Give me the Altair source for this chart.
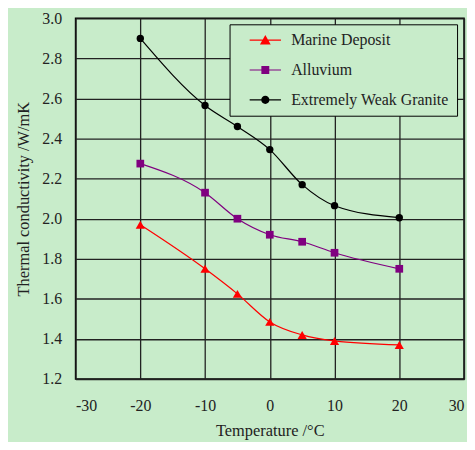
import math
import altair as alt
import pandas as pd

temps = [-20, -10, -5, 0, 5, 10, 20]
series_names = ["Marine Deposit", "Alluvium", "Extremely Weak Granite"]
marine = [1.97, 1.75, 1.625, 1.485, 1.42, 1.39, 1.37]
alluvium = [2.275, 2.13, 2.0, 1.92, 1.885, 1.83, 1.75]
granite = [2.90, 2.565, 2.46, 2.345, 2.17, 2.065, 2.005]
colors = ["#ff0000", "#800080", "#000000"]
shapes = ["triangle-up", "square", "circle"]
point_sizes = [85, 60, 55]
x_ticks = [-30, -20, -10, 0, 10, 20, 30]
y_ticks = [1.2, 1.4, 1.6, 1.8, 2.0, 2.2, 2.4, 2.6, 2.8, 3.0]

BG = "#c8ecca"
FONT = "Liberation Serif"

rows = []
for name, vals in zip(series_names, [marine, alluvium, granite]):
    for t, v in zip(temps, vals):
        rows.append({"series": name, "temp": t, "k": v})
df = pd.DataFrame(rows)

x = alt.X("temp:Q", scale=alt.Scale(domain=[-30, 30], nice=False),
          axis=alt.Axis(values=x_ticks, title="Temperature /°C", labelPadding=19,
                        titlePadding=9, titleFontSize=16.5,
                        labelExpr="datum.value < 0 ? '-' + abs(datum.value) : '' + datum.value"))
y = alt.Y("k:Q", scale=alt.Scale(domain=[1.2, 3.0], nice=False, zero=False),
          axis=alt.Axis(values=y_ticks, format=".1f", title="Thermal conductivity /W/mK",
                        labelPadding=14, titlePadding=10, titleFontSize=16.5))

base = alt.Chart(df)

layers = []
for name, col, shp, sz in zip(series_names, colors, shapes, point_sizes):
    sub = base.transform_filter(alt.datum.series == name)
    layers.append(sub.mark_line(interpolate="monotone", strokeWidth=1.2, color=col)
                  .encode(x=x, y=y))
    layers.append(sub.mark_point(filled=True, opacity=1, shape=shp, size=sz, color=col)
                  .encode(x=x, y=y))

# legend symbols: short line with the marker on it (filled unit-square SVG paths)
line_seg = "M-2.1,-0.08H2.1V0.08H-2.1Z"
circ = "M" + "L".join(
    f"{0.55 * math.cos(2 * math.pi * k / 16):.3f},{0.55 * math.sin(2 * math.pi * k / 16):.3f}"
    for k in range(16)
) + "Z"
leg_paths = [
    line_seg + "M-0.72,0.58L0,-0.7L0.72,0.58Z",
    line_seg + "M-0.53,-0.53H0.53V0.53H-0.53Z",
    line_seg + circ,
]

leg = alt.Legend(
    title=None, orient="none", legendX=155, legendY=6,
    strokeColor="#000000", fillColor=BG, padding=8,
    symbolSize=225, symbolStrokeWidth=0, symbolOffset=20, symbolOpacity=1,
    rowPadding=14, labelOffset=18,
    labelFont=FONT, labelFontSize=16, labelColor="#222222", labelLimit=300,
)

legend_layer = base.mark_point(filled=True, opacity=0).encode(
    x=x, y=y,
    color=alt.Color("series:N", scale=alt.Scale(domain=series_names, range=colors), legend=leg),
    shape=alt.Shape("series:N", scale=alt.Scale(domain=series_names, range=leg_paths), legend=leg),
)
layers.append(legend_layer)

chart = alt.layer(*layers).properties(
    width=391, height=363,
    autosize=alt.AutoSizeParams(type="none"),
    padding={"left": 68, "top": 9, "right": 3, "bottom": 62},
    background=BG,
).configure_view(
    stroke="#000000", strokeWidth=1.5, fill=BG
).configure_axis(
    domain=False, ticks=False, grid=True, gridColor="#222222", gridWidth=1.3,
    gridOpacity=1,
    labelFont=FONT, labelFontSize=16, labelColor="#222222",
    titleFont=FONT, titleFontWeight="normal", titleColor="#222222",
)

chart.save("out.html", embed_options={"renderer": "svg", "actions": False})
